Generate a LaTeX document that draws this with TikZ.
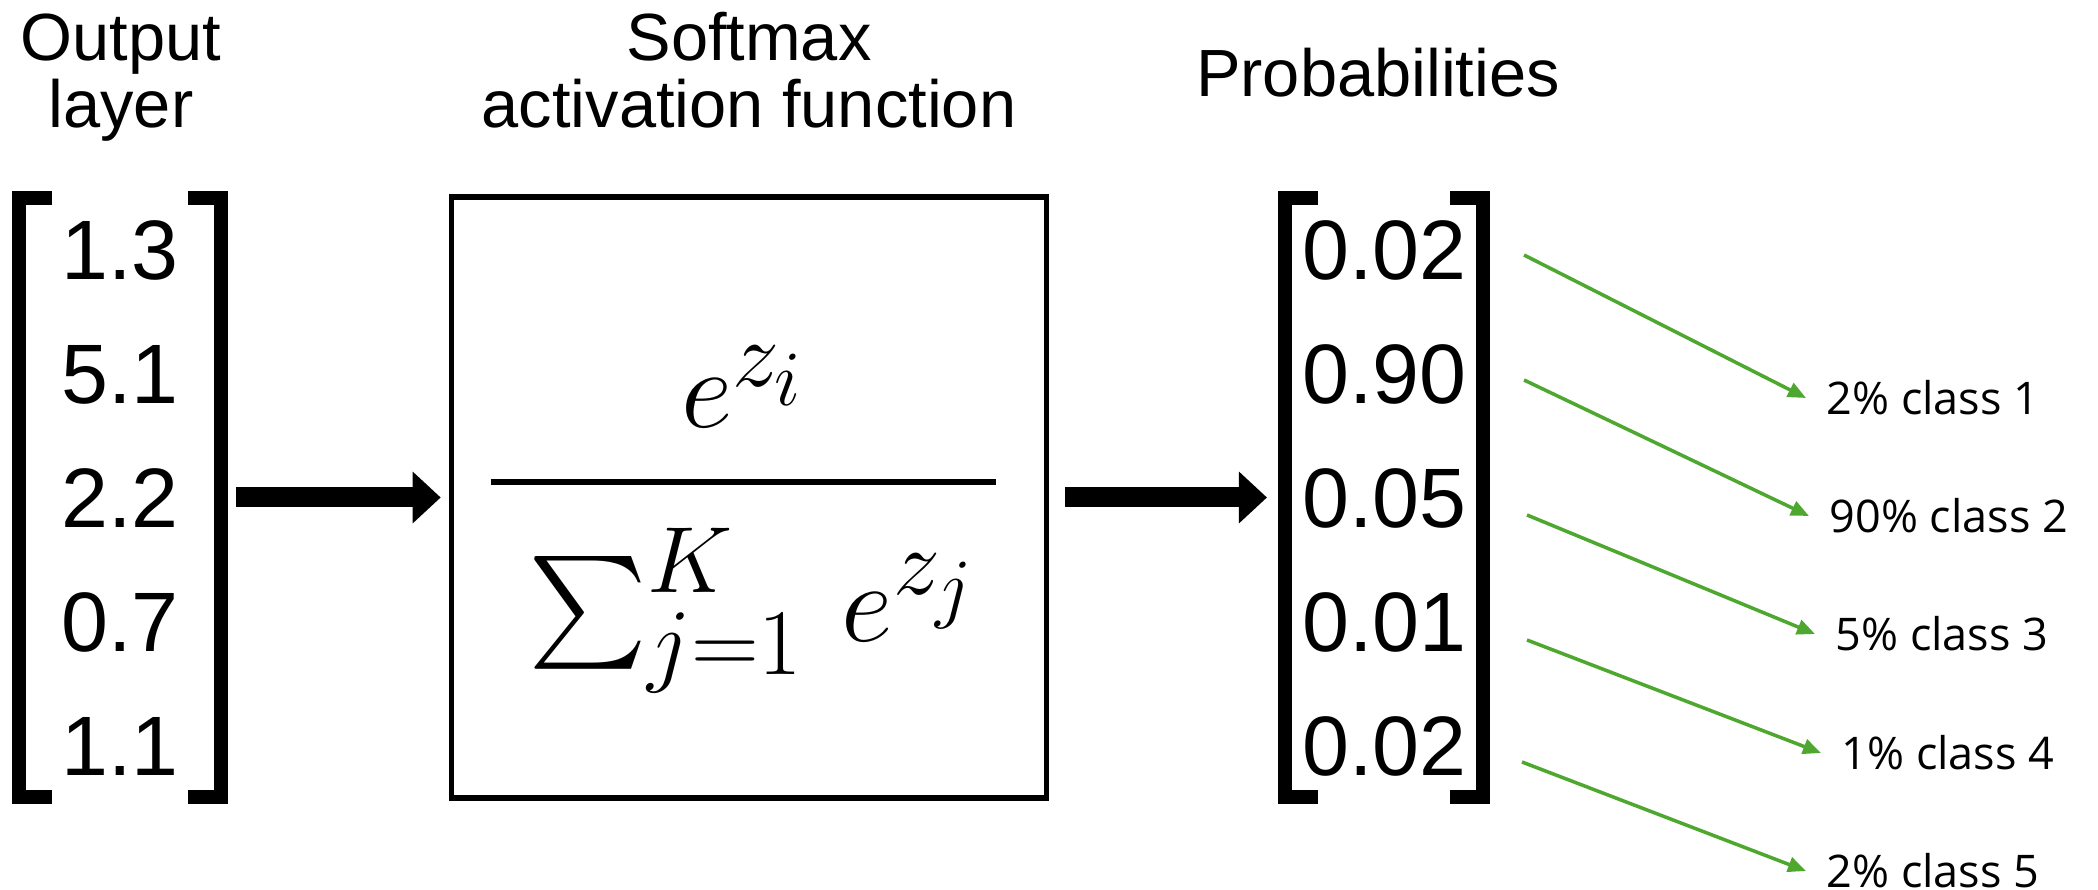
\documentclass[tikz,border=0pt]{standalone}
\usepackage{amsmath}
\usepackage{graphicx}
\usepackage{fontspec}
\usepackage{xcolor}
\usepackage{tikz}
\usetikzlibrary{arrows.meta,positioning}
\newfontfamily\arialish{Liberation Sans}
\newfontfamily\clsfont{Open Sans}
\definecolor{clsgreen}{HTML}{4EA72E}
\tikzset{
  vec/.style={rectangle, minimum width=2.00cm, minimum height=5.97cm, inner sep=0pt},
  val/.style={inner sep=0pt, text height=0.605cm, text depth=0pt,
              font=\arialish\fontsize{24}{28}\selectfont},
  ttl/.style={align=center, inner sep=0pt, font=\arialish\fontsize{19}{19.3}\selectfont},
  fbox/.style={rectangle, draw, line width=1.5pt, minimum width=5.95cm,
               minimum height=6.01cm},
  brk/.style={line width=0.14cm, line cap=butt, line join=miter},
  lbl/.style={inner xsep=0.2cm, inner ysep=0pt, font=\clsfont\fontsize{12.8}{15}\selectfont},
  arr/.style={-{Triangle[length=0.28cm, width=0.5cm]}, line width=0.2cm},
  garr/.style={-{Triangle[length=0.18cm, width=0.15cm]}, line width=1pt, draw=clsgreen}
}

\begin{document}
\begin{tikzpicture}
  \useasboundingbox (0,0) rectangle (20.98,-8.90);
  % vectors and softmax box
  \node[vec] (zvec) at (1.20,-4.975) {};
  \node[fbox, right=2.28cm of zvec] (smbox) {};
  \node[vec, minimum width=1.97cm, right=2.36cm of smbox] (pvec) {};

  % brackets
  \draw[brk] ([xshift=0.33cm]zvec.north west) -- (zvec.north west) -- (zvec.south west) -- ++(0.33,0);
  \draw[brk] ([xshift=-0.33cm]zvec.north east) -- (zvec.north east) -- (zvec.south east) -- ++(-0.33,0);
  \draw[brk] ([xshift=0.33cm]pvec.north west) -- (pvec.north west) -- (pvec.south west) -- ++(0.33,0);
  \draw[brk] ([xshift=-0.33cm]pvec.north east) -- (pvec.north east) -- (pvec.south east) -- ++(-0.33,0);

  % output layer values
  \node[val] (z3) at (zvec) {2.2};
  \node[val, above=0.62cm of z3] (z2) {5.1};
  \node[val, above=0.62cm of z2] (z1) {1.3};
  \node[val, below=0.62cm of z3] (z4) {0.7};
  \node[val, below=0.62cm of z4] (z5) {1.1};

  % probabilities
  \node[val] (p3) at (pvec) {0.05};
  \node[val, above=0.62cm of p3] (p2) {0.90};
  \node[val, above=0.62cm of p2] (p1) {0.02};
  \node[val, below=0.62cm of p3] (p4) {0.01};
  \node[val, below=0.62cm of p4] (p5) {0.02};

  % titles
  \node[ttl, anchor=base] (outttl) at (1.21,-1.28) {Output\\layer};
  \node[ttl, anchor=base] (smttl) at (7.49,-1.28) {Softmax\\activation function};
  \node[ttl, anchor=base] (prttl) at (13.78,-0.97) {Probabilities};

  % softmax formula
  \node[anchor=base, inner sep=0pt, font=\fontsize{24.88}{30}\selectfont] (frac)
    at ([xshift=-0.055cm, yshift=-0.13cm]smbox.center)
    {\scalebox{1.29}{$\genfrac{}{}{1.4pt}{0}{e^{z_i}\rule[-0.25cm]{0pt}{0.25cm}}{\hspace{0.15cm}\rule{0pt}{1.06cm}\sum_{j=1}^{K}\, e^{z_j}\hspace{0.15cm}}$}};

  \draw[arr, shorten <=0.15cm, shorten >=0.08cm] (zvec) -- (smbox);
  \draw[arr, shorten <=0.16cm, shorten >=0.18cm] (smbox) -- (pvec);

  % class labels
  \coordinate (g1) at (15.24,-2.55);
  \coordinate (g2) at (15.24,-3.80);
  \coordinate (g3) at (15.27,-5.15);
  \coordinate (g4) at (15.27,-6.40);
  \coordinate (g5) at (15.22,-7.62);
  \node[lbl, anchor=west] (c1) at (18.06,-3.98) {2\% class 1};
  \node[lbl, anchor=west] (c2) at (18.09,-5.16) {90\% class 2};
  \node[lbl, anchor=west] (c3) at (18.15,-6.34) {5\% class 3};
  \node[lbl, anchor=west] (c4) at (18.21,-7.53) {1\% class 4};
  \node[lbl, anchor=west] (c5) at (18.06,-8.71) {2\% class 5};
  \draw[garr] (g1) -- (c1.west);
  \draw[garr] (g2) -- (c2.west);
  \draw[garr] (g3) -- (c3.west);
  \draw[garr] (g4) -- (c4.west);
  \draw[garr] (g5) -- (c5.west);
\end{tikzpicture}
\end{document}
